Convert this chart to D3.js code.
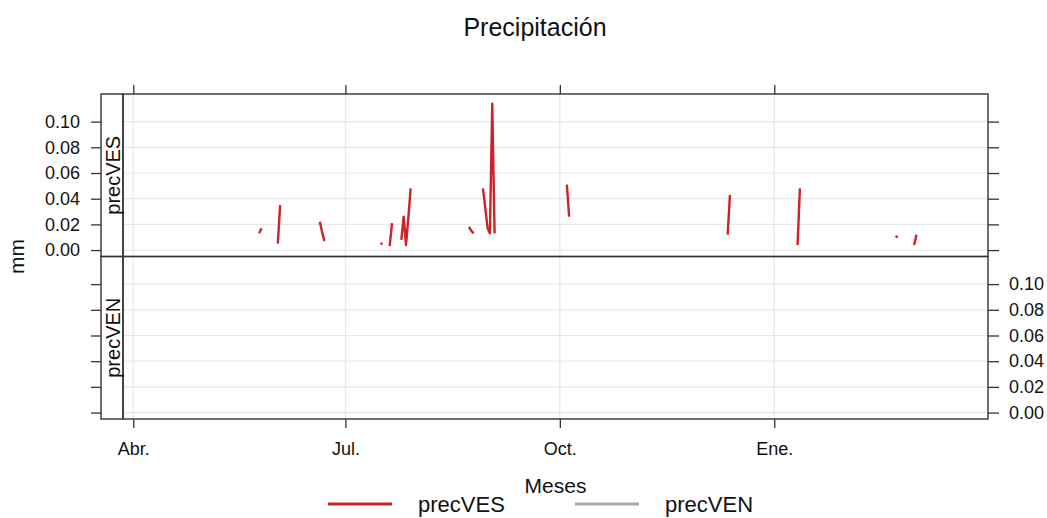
<!DOCTYPE html>
<html>
<head>
<meta charset="utf-8">
<script src="https://cdn.jsdelivr.net/npm/d3@7"></script>
<style>
body { margin: 0; background: #fff; }
text { font-family: "Liberation Sans", Arial, sans-serif; fill: #111; }
</style>
</head>
<body>
<svg id="chart" width="1047" height="518"></svg>
<script>
const paneles = ['precVES', 'precVEN'];
const colores = ['#cc2229', '#aaaaaa'];

// dias con lluvia; null = sin dato (corta la linea)
const fechasVES = [
    '2010-05-25', '2010-05-26', '2010-05-27',
    '2010-06-02', '2010-06-03', '2010-06-04',
    '2010-06-20', '2010-06-21', '2010-06-22', '2010-06-23',
    '2010-07-16', '2010-07-17', '2010-07-18',
    '2010-07-20', '2010-07-21', '2010-07-22',
    '2010-07-25', '2010-07-26', '2010-07-27', '2010-07-28', '2010-07-29', '2010-07-30',
    '2010-08-23', '2010-08-24', '2010-08-25', '2010-08-26',
    '2010-08-29', '2010-08-30', '2010-08-31', '2010-09-01', '2010-09-02', '2010-09-03', '2010-09-04',
    '2010-10-04', '2010-10-05', '2010-10-06',
    '2010-12-12', '2010-12-13', '2010-12-14',
    '2011-01-11', '2011-01-12', '2011-01-13',
    '2011-02-22', '2011-02-23', '2011-02-24',
    '2011-03-02', '2011-03-03', '2011-03-04'
];
const precVES = [
    0.013, 0.017, null,
    0.005, 0.035, null,
    0.022, 0.014, 0.007, null,
    0.005, 0.005, null,
    0.003, 0.021, null,
    0.008, 0.026, 0.004, 0.025, 0.048, null,
    0.018, 0.015, 0.013, null,
    0.048, 0.033, 0.017, 0.013, 0.114, 0.013, null,
    0.051, 0.026, null,
    0.012, 0.043, null,
    0.004, 0.048, null,
    0.011, 0.010, null,
    0.004, 0.012, null
];
const fechasVEN = [];
const precVEN = [];

const mesesTicks = ['2010-04-01', '2010-07-01', '2010-10-01', '2011-01-01'];
const mesesEtiquetas = ['Abr.', 'Jul.', 'Oct.', 'Ene.'];
const yTicks = [0, 0.02, 0.04, 0.06, 0.08, 0.10];

const series = [
    { nombre: paneles[0], color: colores[0], fechas: fechasVES, valores: precVES },
    { nombre: paneles[1], color: colores[1], fechas: fechasVEN, valores: precVEN }
];

const svg = d3.select('#chart');
const parse = d3.utcParse('%Y-%m-%d');
const dia = 864e5;

const stripLeft = 101;
const panelLeft = 123;
const panelRight = 988;
const panelTop = 94;
const panelH = 162.5;
const panelBottom = panelTop + 2 * panelH;

const x = d3.scaleUtc()
    .domain([new Date(+parse('2010-04-01') - 4.42 * dia), new Date(+parse('2010-04-01') + 366.7 * dia)])
    .range([panelLeft, panelRight]);

const yScales = paneles.map((p, i) => d3.scaleLinear()
    .domain([-0.005, 0.1215])
    .range([panelTop + (i + 1) * panelH, panelTop + i * panelH]));

const tickDates = mesesTicks.map(parse);

// grid
yScales.forEach((y) => {
    const g = svg.append('g');
    g.selectAll('line.h')
        .data(yTicks)
        .enter()
        .append('line')
        .attr('x1', panelLeft).attr('x2', panelRight)
        .attr('y1', (d) => y(d)).attr('y2', (d) => y(d))
        .attr('stroke', '#e8e8e8')
        .attr('stroke-width', 1.2);
    g.selectAll('line.v')
        .data(tickDates)
        .enter()
        .append('line')
        .attr('x1', (d) => x(d)).attr('x2', (d) => x(d))
        .attr('y1', y.range()[1]).attr('y2', y.range()[0])
        .attr('stroke', '#e8e8e8')
        .attr('stroke-width', 1.2);
});

// lines
series.forEach((s, i) => {
    const y = yScales[i];
    const puntos = s.fechas.map((f, j) => ({ fecha: parse(f), valor: s.valores[j] }));
    const line = d3.line()
        .defined((d) => d.valor != null)
        .x((d) => x(d.fecha))
        .y((d) => y(d.valor));
    svg.append('path')
        .datum(puntos)
        .attr('fill', 'none')
        .attr('stroke', s.color)
        .attr('stroke-width', 2.4)
        .attr('stroke-linejoin', 'round')
        .attr('d', line);
});

// axes
const styleAxis = (g) => {
    g.select('.domain').remove();
    g.selectAll('.tick line').attr('stroke', '#333').attr('stroke-width', 1.3);
    g.selectAll('.tick text').style('font-size', '18px').attr('fill', '#111');
};
const fmt = d3.format('.2f');

yScales.forEach((y, i) => {
    svg.append('g')
        .attr('transform', `translate(${stripLeft}, 0)`)
        .call(d3.axisLeft(y).tickValues(yTicks).tickSize(10).tickPadding(11)
            .tickFormat(i === 0 ? fmt : ''))
        .call(styleAxis);
    svg.append('g')
        .attr('transform', `translate(${panelRight}, 0)`)
        .call(d3.axisRight(y).tickValues(yTicks).tickSize(11).tickPadding(10)
            .tickFormat(i === 1 ? fmt : ''))
        .call(styleAxis);
});

svg.append('g')
    .attr('transform', `translate(0, ${panelTop})`)
    .call(d3.axisTop(x).tickValues(tickDates).tickSize(9).tickFormat(''))
    .call(styleAxis);

svg.append('g')
    .attr('transform', `translate(0, ${panelBottom})`)
    .call(d3.axisBottom(x).tickValues(tickDates).tickSize(9).tickPadding(14)
        .tickFormat((d, i) => mesesEtiquetas[i]))
    .call(styleAxis);

// panel + strip borders
paneles.forEach((p, i) => {
    const y0 = panelTop + i * panelH;
    svg.append('rect')
        .attr('x', stripLeft).attr('y', y0)
        .attr('width', panelLeft - stripLeft).attr('height', panelH)
        .attr('fill', 'none').attr('stroke', '#333').attr('stroke-width', 1.4);
    svg.append('rect')
        .attr('x', panelLeft).attr('y', y0)
        .attr('width', panelRight - panelLeft).attr('height', panelH)
        .attr('fill', 'none').attr('stroke', '#333').attr('stroke-width', 1.4);
    svg.append('text')
        .attr('transform', `translate(${(stripLeft + panelLeft) / 2 + 1}, ${y0 + panelH / 2}) rotate(-90)`)
        .attr('text-anchor', 'middle')
        .attr('dominant-baseline', 'central')
        .style('font-size', '20px')
        .text(p);
});

// titles
svg.append('text')
    .attr('x', 535).attr('y', 36)
    .attr('text-anchor', 'middle')
    .style('font-size', '25px')
    .text('Precipitación');

svg.append('text')
    .attr('x', (panelLeft + panelRight) / 2).attr('y', 493)
    .attr('text-anchor', 'middle')
    .style('font-size', '21px')
    .text('Meses');

svg.append('text')
    .attr('transform', `translate(24, ${(panelTop + panelBottom) / 2}) rotate(-90)`)
    .attr('text-anchor', 'middle')
    .style('font-size', '21px')
    .text('mm');

// legend
const legend = svg.append('g')
    .attr('transform', 'translate(328, 504)');
const item = legend.selectAll('g')
    .data(series)
    .enter()
    .append('g')
    .attr('transform', (d, i) => `translate(${i * 247}, 0)`);
item.append('line')
    .attr('x1', 0).attr('x2', 64)
    .attr('stroke', (d) => d.color)
    .attr('stroke-width', 3);
item.append('text')
    .attr('x', 90).attr('y', 8)
    .style('font-size', '22px')
    .text((d) => d.nombre);
</script>
</body>
</html>
